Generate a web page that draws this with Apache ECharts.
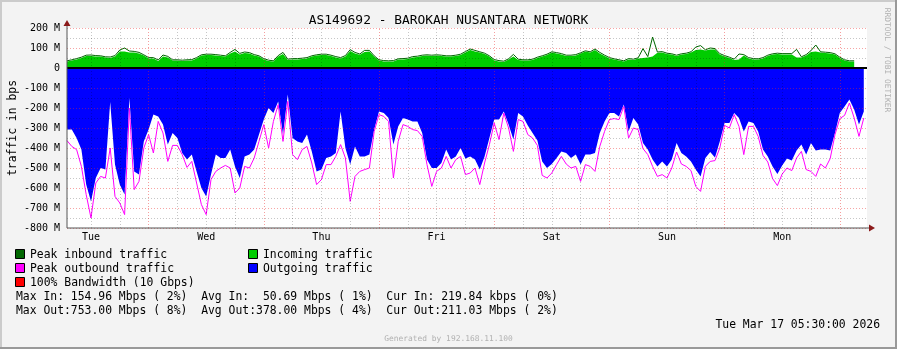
<!DOCTYPE html>
<html><head><meta charset="utf-8">
<script src="https://cdn.jsdelivr.net/npm/echarts@6/dist/echarts.min.js"></script>
<style>html,body{margin:0;padding:0;background:#F3F3F3;}#c{width:897px;height:349px;}</style>
</head><body><div id="c"></div>
<script>
// time base: hours since Tue Mar 10 00:00, hourly samples
const startHour = 7;
const endHour = 173.67;
const dayLabels = ['Tue', 'Wed', 'Thu', 'Fri', 'Sat', 'Sun', 'Mon'];
const dayLabelHours = [12, 36, 60, 84, 108, 132, 156];
const dayBoundaryHours = [24, 48, 72, 96, 120, 144, 168];
const sixHourLines = [12, 18, 30, 36, 42, 54, 60, 66, 78, 84, 90, 102, 108, 114, 126, 132, 138, 150, 156, 162];
const yMajor = [-800, -700, -600, -500, -400, -300, -200, -100, 100, 200];
const yMinor = [-750, -650, -550, -450, -350, -250, -150, -50, 50, 150];

// Mbps, hourly from 07:00 Tue
const inAvg = [32,37,43,50,60,60,58,57,52,50,57,82,82,77,78,73,62,48,48,35,57,53,37,37,35,37,38,48,62,65,65,63,60,57,73,82,68,75,73,63,57,43,35,32,57,70,40,43,43,45,48,57,62,65,65,60,53,48,57,85,73,66,80,83,57,37,33,32,33,42,43,45,53,55,60,62,60,62,60,57,57,60,65,77,90,83,77,70,57,38,33,30,42,57,40,37,37,40,50,57,65,77,73,68,60,60,63,72,82,77,90,73,60,48,42,37,32,43,40,47,50,53,58,76,78,70,67,60,67,70,77,90,93,87,93,93,68,58,50,40,43,63,48,43,42,48,60,67,70,68,68,68,53,52,63,80,82,77,75,73,67,50,37,32,32,null,null];
const inPeak = [36,41,47,54,64,65,62,61,56,55,62,90,100,85,83,78,66,52,52,40,65,58,41,41,39,41,42,52,66,69,69,67,64,61,78,93,73,80,77,67,61,47,39,36,62,78,44,47,47,49,52,61,66,69,69,64,57,52,62,92,78,70,88,88,61,41,37,36,37,46,47,49,57,59,64,66,64,66,64,61,61,64,69,82,95,88,81,74,61,42,37,34,46,68,44,41,41,44,54,61,69,81,77,72,64,64,67,76,86,81,95,78,64,52,46,41,36,47,44,51,97,57,155,80,82,74,71,64,71,74,81,105,112,91,100,97,72,62,54,44,70,67,52,47,46,52,64,71,74,72,72,72,93,56,67,87,115,81,79,77,71,54,41,36,36,null,null];
const outAvg = [-308,-308,-350,-408,-583,-667,-550,-500,-508,-170,-483,-583,-633,-150,-517,-533,-367,-308,-233,-242,-283,-383,-325,-350,-425,-458,-433,-517,-600,-642,-533,-433,-450,-450,-408,-492,-550,-442,-433,-408,-333,-258,-200,-225,-167,-333,-133,-350,-367,-375,-333,-417,-517,-508,-450,-442,-425,-217,-400,-483,-392,-442,-442,-433,-308,-217,-225,-250,-383,-292,-250,-258,-267,-267,-325,-458,-500,-500,-475,-408,-458,-442,-400,-453,-442,-458,-508,-442,-350,-258,-258,-217,-283,-358,-225,-242,-287,-325,-363,-467,-500,-480,-450,-417,-425,-450,-433,-483,-433,-433,-425,-325,-267,-225,-225,-242,-183,-317,-250,-283,-375,-408,-458,-492,-467,-492,-458,-375,-425,-442,-467,-508,-542,-450,-420,-447,-367,-275,-275,-225,-250,-317,-267,-275,-317,-408,-442,-492,-530,-487,-453,-463,-413,-383,-433,-375,-413,-408,-408,-413,-325,-225,-192,-158,-208,-283,-217];
const outPeak = [-363,-392,-408,-492,-633,-750,-575,-542,-550,-400,-642,-675,-733,-200,-608,-567,-400,-333,-425,-267,-325,-467,-387,-387,-433,-497,-467,-575,-683,-733,-558,-517,-500,-487,-500,-625,-600,-492,-500,-450,-367,-283,-400,-267,-183,-367,-167,-433,-458,-408,-392,-475,-583,-558,-483,-483,-442,-383,-450,-667,-542,-517,-508,-500,-317,-233,-242,-267,-550,-367,-283,-292,-308,-313,-342,-483,-592,-517,-500,-442,-500,-458,-442,-533,-525,-500,-583,-475,-383,-275,-358,-225,-300,-417,-258,-267,-333,-350,-387,-537,-550,-525,-483,-442,-480,-500,-492,-567,-483,-492,-517,-392,-317,-258,-253,-258,-192,-350,-300,-308,-403,-433,-492,-542,-533,-550,-500,-420,-480,-492,-513,-592,-617,-492,-467,-463,-400,-287,-300,-233,-292,-433,-292,-292,-342,-437,-470,-553,-588,-530,-500,-513,-450,-417,-508,-517,-542,-480,-500,-453,-333,-253,-237,-175,-250,-342,-250];

const hours = inAvg.map((_, i) => startHour + i);
const pairs = arr => arr.map((v, i) => [hours[i], v]);

const MONO = '"DejaVu Sans Mono", monospace';
const G = { left: 67, top: 28, width: 800, height: 200 };

const chart = echarts.init(document.getElementById('c'), null, { renderer: 'canvas' });

const gridMarks = [];
yMinor.forEach(v => gridMarks.push({ yAxis: v, lineStyle: { color: 'rgba(0,0,0,0.22)', type: [1, 2], width: 1 } }));
yMajor.forEach(v => gridMarks.push({ yAxis: v, lineStyle: { color: 'rgba(235,40,40,0.42)', type: [1, 2], width: 1 } }));
sixHourLines.forEach(v => gridMarks.push({ xAxis: v, lineStyle: { color: 'rgba(0,0,0,0.22)', type: [1, 2], width: 1 } }));
dayBoundaryHours.forEach(v => gridMarks.push({ xAxis: v, lineStyle: { color: 'rgba(235,40,40,0.45)', type: [1, 2], width: 1 } }));
gridMarks.push({ yAxis: 0, lineStyle: { color: '#000', type: 'solid', width: 2 } });

const legendRows = [
  { x: 15, y: 255, color: '#006600', text: 'Peak inbound traffic' },
  { x: 248, y: 255, color: '#00CC00', text: 'Incoming traffic' },
  { x: 15, y: 269, color: '#FF00FF', text: 'Peak outbound traffic' },
  { x: 248, y: 269, color: '#0000FF', text: 'Outgoing traffic' },
  { x: 15, y: 283, color: '#FF0000', text: '100% Bandwidth (10 Gbps)' }
];
const statLines = [
  'Max In: 154.96 Mbps ( 2%)  Avg In:  50.69 Mbps ( 1%)  Cur In: 219.84 kbps ( 0%)',
  'Max Out:753.00 Mbps ( 8%)  Avg Out:378.00 Mbps ( 4%)  Cur Out:211.03 Mbps ( 2%)'
];

const graphics = [];
graphics.push({ type: 'rect', shape: { x: 0, y: 0, width: 897, height: 2 }, style: { fill: '#CBCBCB' }, silent: true });
graphics.push({ type: 'rect', shape: { x: 0, y: 0, width: 2, height: 349 }, style: { fill: '#CBCBCB' }, silent: true });
graphics.push({ type: 'rect', shape: { x: 0, y: 347, width: 897, height: 2 }, style: { fill: '#999999' }, silent: true });
graphics.push({ type: 'rect', shape: { x: 895, y: 0, width: 2, height: 349 }, style: { fill: '#999999' }, silent: true });
legendRows.forEach(r => {
  graphics.push({ type: 'rect', shape: { x: r.x + 0.5, y: r.y - 5.5, width: 9, height: 9 }, style: { fill: r.color, stroke: '#000', lineWidth: 1 }, silent: true });
  graphics.push({ type: 'text', x: r.x + 15, y: r.y, style: { text: r.text, font: '11.4px ' + MONO, fill: '#000', verticalAlign: 'middle' }, silent: true });
});
statLines.forEach((t, i) => {
  graphics.push({ type: 'text', x: 16, y: 297 + i * 14, style: { text: t, font: '11.4px ' + MONO, fill: '#000', verticalAlign: 'middle' }, silent: true });
});
graphics.push({ type: 'text', x: 880, y: 325, style: { text: 'Tue Mar 17 05:30:00 2026', font: '11.4px ' + MONO, fill: '#000', align: 'right', verticalAlign: 'middle' }, silent: true });
graphics.push({ type: 'text', x: 448.5, y: 339, style: { text: 'Generated by 192.168.11.100', font: '7.9px ' + MONO, fill: '#B0B0B0', align: 'center', verticalAlign: 'middle' }, silent: true });
graphics.push({ type: 'text', x: 887, y: 60, rotation: -Math.PI / 2, style: { text: 'RRDTOOL / TOBI OETIKER', font: '7.9px ' + MONO, fill: '#B0B0B0', align: 'center', verticalAlign: 'middle' }, silent: true });
const ax0 = G.left, ay0 = G.top + G.height;
graphics.push({ type: 'line', shape: { x1: ax0, y1: ay0, x2: ax0, y2: G.top - 5 }, style: { stroke: '#555', lineWidth: 1 }, silent: true, z: 100 });
graphics.push({ type: 'line', shape: { x1: ax0, y1: ay0, x2: G.left + G.width + 3, y2: ay0 }, style: { stroke: '#555', lineWidth: 1 }, silent: true, z: 100 });
graphics.push({ type: 'polygon', shape: { points: [[ax0 - 3.5, G.top - 2], [ax0 + 3.5, G.top - 2], [ax0, G.top - 8]] }, style: { fill: '#8B1A1A' }, silent: true, z: 100 });
graphics.push({ type: 'polygon', shape: { points: [[G.left + G.width + 2, ay0 - 3.5], [G.left + G.width + 2, ay0 + 3.5], [G.left + G.width + 8, ay0]] }, style: { fill: '#8B1A1A' }, silent: true, z: 100 });

const option = {
  animation: false,
  backgroundColor: '#F3F3F3',
  title: {
    text: 'AS149692 - BAROKAH NUSANTARA NETWORK',
    left: 'center', top: 9,
    textStyle: { fontFamily: MONO, fontSize: 12.9, fontWeight: 'normal', color: '#000' }
  },
  grid: { left: G.left, top: G.top, width: G.width, height: G.height, show: true, backgroundColor: '#FFFFFF', borderWidth: 0, containLabel: false, outerBoundsMode: 'none' },
  xAxis: {
    type: 'value', min: startHour, max: endHour,
    axisLine: { show: false, onZero: false },
    axisTick: { show: false },
    splitLine: { show: false },
    axisLabel: {
      show: true, customValues: dayLabelHours, margin: 4,
      formatter: v => dayLabels[dayLabelHours.indexOf(v)] || '',
      fontFamily: MONO, fontSize: 10, color: '#000'
    }
  },
  yAxis: {
    type: 'value', min: -800, max: 200, interval: 100,
    name: 'traffic in bps', nameLocation: 'middle', nameGap: 48, nameRotate: 90, nameMoveOverlap: false,
    nameTextStyle: { fontFamily: MONO, fontSize: 11.4, color: '#000' },
    axisLine: { show: false },
    axisTick: { show: false },
    splitLine: { show: false },
    axisLabel: { margin: 7, fontFamily: MONO, fontSize: 10, color: '#000', formatter: v => v === 0 ? '0' : v + ' M' }
  },
  series: [
    { name: 'Outgoing traffic', type: 'line', data: pairs(outAvg), showSymbol: false, symbol: 'none', lineStyle: { width: 0 }, areaStyle: { color: '#0000FF', opacity: 1 }, z: 2 },
    { name: 'Incoming traffic', type: 'line', data: pairs(inAvg), showSymbol: false, symbol: 'none', lineStyle: { width: 0 }, areaStyle: { color: '#00CC00', opacity: 1 }, z: 3 },
    { name: 'Peak outbound traffic', type: 'line', data: pairs(outPeak), showSymbol: false, symbol: 'none', lineStyle: { width: 1, color: '#FF00FF' }, z: 4 },
    { name: 'Peak inbound traffic', type: 'line', data: pairs(inPeak), showSymbol: false, symbol: 'none', lineStyle: { width: 1, color: '#006600' }, z: 5 },
    { name: 'grid', type: 'line', data: [], z: 10, silent: true,
      markLine: { silent: true, symbol: ['none', 'none'], label: { show: false }, animation: false, data: gridMarks } }
  ],
  graphic: graphics
};
chart.setOption(option);
</script></body></html>
